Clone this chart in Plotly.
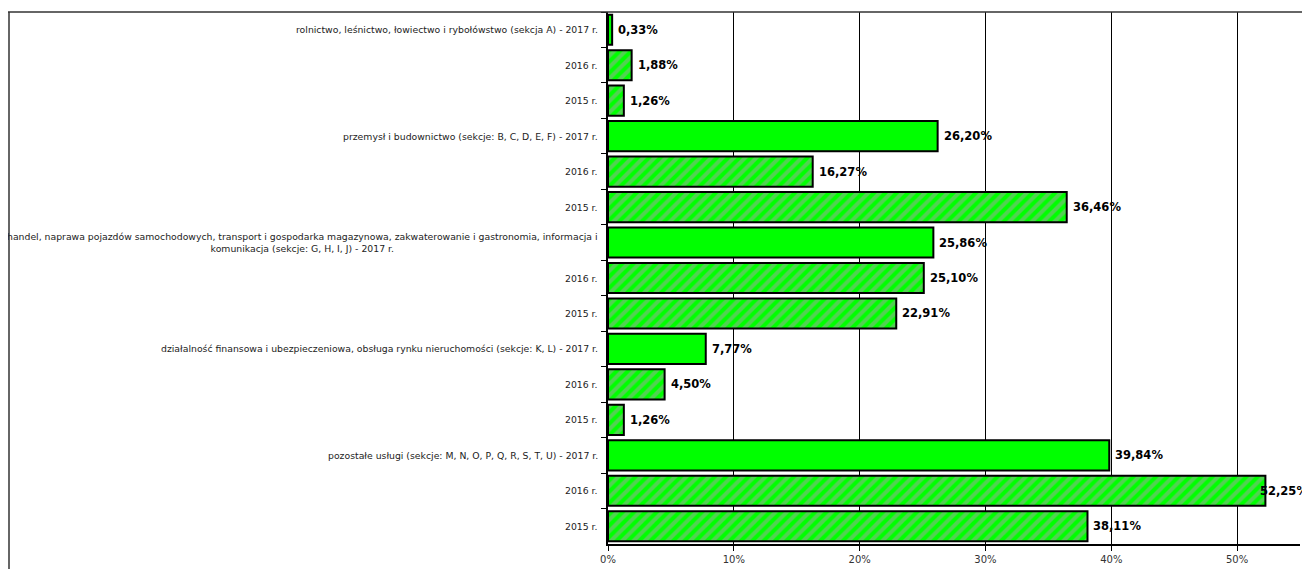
import plotly.graph_objects as go

# dane: udział w % wg sekcji, lata 2017 / 2016 / 2015
sekcje = [
    "rolnictwo, leśnictwo, łowiectwo i rybołówstwo (sekcja A) - 2017 r.",
    "przemysł i budownictwo (sekcje: B, C, D, E, F) - 2017 r.",
    "handel, naprawa pojazdów samochodowych, transport i gospodarka magazynowa, zakwaterowanie i gastronomia, informacja i<br>komunikacja (sekcje: G, H, I, J) - 2017 r.",
    "działalność finansowa i ubezpieczeniowa, obsługa rynku nieruchomości (sekcje: K, L) - 2017 r.",
    "pozostałe usługi (sekcje: M, N, O, P, Q, R, S, T, U) - 2017 r.",
]
lata = ["2017", "2016", "2015"]
w2017 = [0.33, 26.20, 25.86, 7.77, 39.84]
w2016 = [1.88, 16.27, 25.10, 4.50, 52.25]
w2015 = [1.26, 36.46, 22.91, 1.26, 38.11]
osx_wart = [0, 10, 20, 30, 40, 50]
osx_tekst = ["0%", "10%", "20%", "30%", "40%", "50%"]
X_MAX = 55

ids, etykiety, wartosci, wzor = [], [], [], []
for i, s in enumerate(sekcje):
    for rok, vals in zip(lata, [w2017, w2016, w2015]):
        ids.append(f"s{i}_{rok}")
        etykiety.append(s if rok == "2017" else f"{rok} r.")
        wartosci.append(vals[i])
        wzor.append("" if rok == "2017" else "/")

W, H = 1302, 561          # strona ma 8px marginesu body
L, R, T, B = 600, 10, 4, 20
plot_w = W - L - R

fig = go.Figure()
fig.add_trace(go.Bar(
    x=wartosci, y=ids, orientation="h",
    marker=dict(
        color="#00ff00",
        line=dict(color="black", width=2),
        pattern=dict(shape=wzor, fgcolor="#a4a4a4", bgcolor="#00ff00",
                     fillmode="overlay", size=8, solidity=0.5),
    ),
    hoverinfo="x+y",
))

# etykiety kategorii jako adnotacje (wyśrodkowane linie)
for yid, txt in zip(ids, etykiety):
    fig.add_annotation(x=0, xref="paper", y=yid, yref="y", text=txt,
                       showarrow=False, xanchor="right", xshift=-8, align="center",
                       font=dict(family="DejaVu Sans", size=9.3, color="#222"))

# etykiety wartości
for yid, v in zip(ids, wartosci):
    txt = "<b>" + f"{v:.2f}".replace(".", ",") + "%</b>"
    if v > 51:
        # nie mieści się - dosunięte do prawej krawędzi
        fig.add_annotation(x=1 + R / plot_w, xref="paper", y=yid, yref="y", text=txt,
                           showarrow=False, xanchor="right",
                           font=dict(family="DejaVu Sans", size=11.5, color="black"))
    else:
        fig.add_annotation(x=v, xref="x", y=yid, yref="y", text=txt,
                           showarrow=False, xanchor="left", xshift=4,
                           font=dict(family="DejaVu Sans", size=11.5, color="black"))

# ramka wykresu
fig.add_shape(type="line", xref="paper", yref="paper", x0=-L / plot_w, x1=1 + R / plot_w,
              y0=1, y1=1, line=dict(color="#333", width=1.5))
fig.add_shape(type="line", xref="paper", yref="paper", x0=-(L - 1) / plot_w, x1=-(L - 1) / plot_w,
              y0=1, y1=-0.1, line=dict(color="#333", width=1.5))

fig.update_layout(
    width=W, height=H,
    margin=dict(l=L, r=R, t=T, b=B),
    paper_bgcolor="white", plot_bgcolor="white",
    showlegend=False,
    bargap=0.15,
    font=dict(family="DejaVu Sans", size=10, color="#222"),
    xaxis=dict(range=[0, X_MAX], tickmode="array", tickvals=osx_wart, ticktext=osx_tekst,
               showgrid=True, gridcolor="black", gridwidth=1, zeroline=False,
               showline=True, linecolor="black", linewidth=1.5,
               ticks="outside", ticklen=5, tickcolor="black",
               tickfont=dict(family="DejaVu Sans", size=10, color="#333")),
    yaxis=dict(autorange="reversed", showticklabels=False, type="category",
               tickson="boundaries", ticks="outside", ticklen=5, tickcolor="black",
               showgrid=False, showline=True, linecolor="black", linewidth=1.5),
)

fig.write_html("out.html")
